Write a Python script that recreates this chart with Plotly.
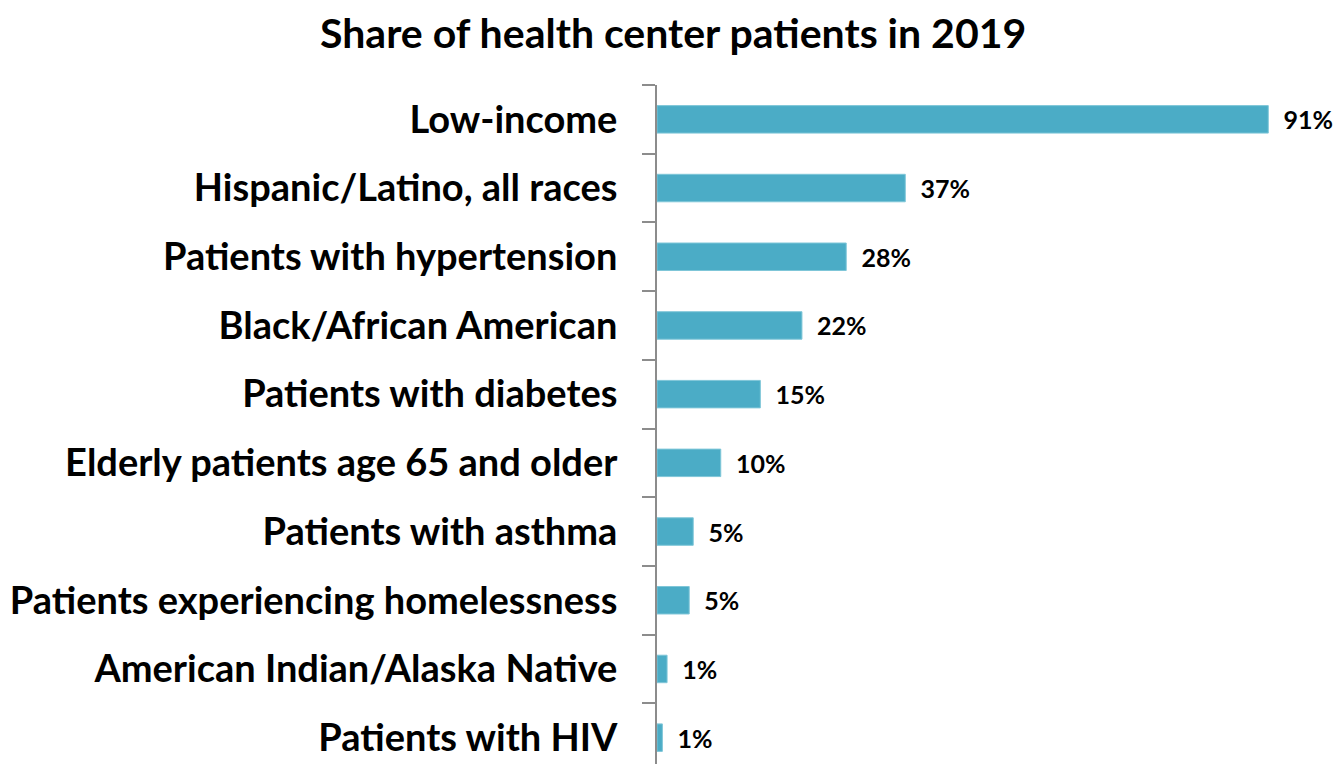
import plotly.graph_objects as go

categories = [
    'Low-income',
    'Hispanic/Latino, all races',
    'Patients with hypertension',
    'Black/African American',
    'Patients with diabetes',
    'Elderly patients age 65 and older',
    'Patients with asthma',
    'Patients experiencing homelessness',
    'American Indian/Alaska Native',
    'Patients with HIV',
]
values = [91.1, 37.0, 28.2, 21.6, 15.4, 9.5, 5.4, 4.8, 1.5, 0.8]
labels = ['91%', '37%', '28%', '22%', '15%', '10%', '5%', '5%', '1%', '1%']

font_family = 'Lato, "Open Sans", sans-serif'

fig = go.Figure()
fig.add_trace(go.Bar(
    y=categories, x=values, orientation='h',
    marker=dict(color='#4BACC6', line=dict(color='#7fc6d8', width=1)),
    width=0.4,
    text=['  ' + t for t in labels], textposition='outside', constraintext='none',
    textfont=dict(family=font_family, size=25, color='black', weight='bold'),
    cliponaxis=False, showlegend=False,
))

# page body adds an 8px offset, so margins are trimmed by 8
fig.update_layout(
    width=1341, height=764,
    margin=dict(l=649, r=21, t=77, b=0),
    plot_bgcolor='white', paper_bgcolor='white',
    title=dict(text='<b>Share of health center patients in 2019</b>', x=0.496, xanchor='center',
               y=0.966, yanchor='middle',
               font=dict(family=font_family, size=41, color='black')),
    xaxis=dict(range=[0, 100], visible=False, showgrid=False, zeroline=False),
    yaxis=dict(
        autorange='reversed', showgrid=False, zeroline=False,
        showline=True, linecolor='#8c8c8c', linewidth=2,
        ticks='outside', tickson='boundaries', ticklen=13, tickcolor='#8c8c8c', tickwidth=2,
        ticklabelstandoff=30,
        tickfont=dict(family=font_family, size=38, color='black', weight='bold'),
    ),
)

fig.write_html('out.html')
